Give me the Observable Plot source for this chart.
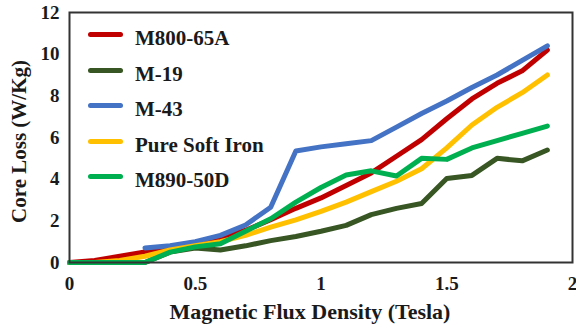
<!DOCTYPE html>
<html>
<head>
<meta charset="utf-8">
<script src="https://cdn.jsdelivr.net/npm/d3@7"></script>
<script src="https://cdn.jsdelivr.net/npm/@observablehq/plot@0.6"></script>
<style>
  html, body { margin: 0; padding: 0; background: #fff; }
  #wrap { position: relative; width: 576px; height: 332px; font-family: "Liberation Serif", "Times New Roman", serif; font-weight: bold; }
  #legend { position: absolute; left: 88px; top: 17px; }
  .row { display: flex; align-items: center; height: 35.5px; font-size: 21px; color: #1a1a1a; }
  .sw { width: 35px; height: 5px; border-radius: 3px; margin-right: 12px; }
  .lab { position: relative; top: 4px; }
</style>
</head>
<body>
<div id="wrap"></div>
<script>
const flux = [0, 0.1, 0.2, 0.3, 0.4, 0.5, 0.6, 0.7, 0.8, 0.9, 1.0, 1.1, 1.2, 1.3, 1.4, 1.5, 1.6, 1.7, 1.8, 1.9];
const seriesNames = ["M800-65A", "M-19", "M-43", "Pure Soft Iron", "M890-50D"];
const seriesColors = ["#C00000", "#375623", "#4472C4", "#FFC000", "#00B050"];
const m800 = [0, 0.1, 0.3, 0.5, 0.7, 0.9, 1.15, 1.55, 2.05, 2.6, 3.1, 3.7, 4.3, 5.1, 5.9, 6.9, 7.85, 8.6, 9.2, 10.2];
const m19 = [0, 0, 0, 0, 0.5, 0.7, 0.6, 0.8, 1.05, 1.25, 1.5, 1.78, 2.3, 2.6, 2.83, 4.03, 4.18, 5.0, 4.88, 5.4];
const m43 = [null, null, null, 0.7, 0.8, 1.0, 1.3, 1.8, 2.65, 5.35, 5.55, 5.7, 5.85, 6.5, 7.15, 7.75, 8.4, 9.0, 9.7, 10.4];
const pureIron = [0, 0, 0.1, 0.3, 0.6, 0.8, 1.0, 1.3, 1.7, 2.05, 2.45, 2.9, 3.4, 3.9, 4.5, 5.5, 6.6, 7.45, 8.15, 9.0];
const m890 = [0, 0, 0, 0, 0.5, 0.75, 0.9, 1.5, 2.1, 2.9, 3.6, 4.2, 4.4, 4.15, 5.0, 4.95, 5.5, 5.85, 6.2, 6.55];
const xTicks = [0, 0.5, 1, 1.5, 2];
const yTicks = [0, 2, 4, 6, 8, 10, 12];

const allValues = [m800, m19, m43, pureIron, m890];
const data = [];
allValues.forEach((vals, i) => {
  vals.forEach((v, j) => {
    if (v !== null) data.push({series: seriesNames[i], x: flux[j], y: v});
  });
});

const font = '"Liberation Serif", "Times New Roman", serif';
const chart = Plot.plot({
  width: 576,
  height: 332,
  marginLeft: 69,
  marginRight: 4,
  marginTop: 12,
  marginBottom: 70,
  style: { fontFamily: font, fontWeight: "bold", fontSize: "19px", color: "#1a1a1a", background: "#fff" },
  x: { domain: [0, 2], ticks: xTicks, tickFormat: d => String(d), label: null },
  y: { domain: [0, 12], ticks: yTicks, label: null },
  color: { domain: seriesNames, range: seriesColors },
  marks: [
    Plot.axisX({ ticks: xTicks, tickSize: 0, tickPadding: 14, tickFormat: d => String(d), fontSize: 19 }),
    Plot.axisY({ ticks: yTicks, tickSize: 0, tickPadding: 10, fontSize: 19 }),
    Plot.line(data, { x: "x", y: "y", z: "series", stroke: "series", strokeWidth: 5, strokeLinejoin: "round", strokeLinecap: "round" }),
    Plot.frame({ stroke: "#333", strokeWidth: 2 }),
    Plot.text(["Magnetic Flux Density (Tesla)"], { frameAnchor: "bottom", textAnchor: "middle", dx: -11, dy: 56, fontSize: 22, fontWeight: "bold", text: d => d }),
    Plot.text(["Core Loss (W/Kg)"], { frameAnchor: "left", textAnchor: "middle", dx: -50, dy: 4, rotate: -90, fontSize: 21, fontWeight: "bold", text: d => d })
  ]
});

const wrap = document.getElementById("wrap");
wrap.appendChild(chart);
const legend = document.createElement("div");
legend.id = "legend";
seriesNames.forEach((name, i) => {
  const row = document.createElement("div");
  row.className = "row";
  const sw = document.createElement("span");
  sw.className = "sw";
  sw.style.background = seriesColors[i];
  const label = document.createElement("span");
  label.className = "lab";
  label.textContent = name;
  row.appendChild(sw);
  row.appendChild(label);
  legend.appendChild(row);
});
wrap.appendChild(legend);
</script>
</body>
</html>
